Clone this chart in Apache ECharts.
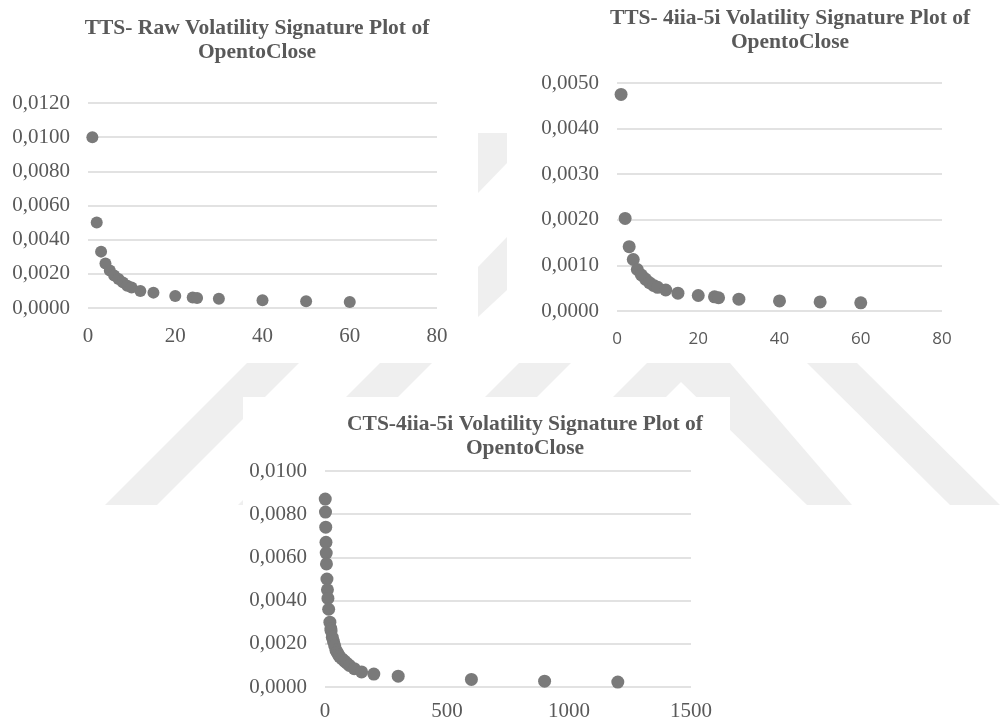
<!DOCTYPE html>
<html>
<head>
<meta charset="utf-8">
<script src="https://cdn.jsdelivr.net/npm/echarts@6/dist/echarts.min.js"></script>
<style>html,body{margin:0;padding:0;background:#fff;}#c{width:1000px;height:722px;}</style>
</head>
<body>
<div id="c"></div>
<script>
// Chart 1: TTS- Raw
var rawX = [1, 2, 3, 4, 5, 6, 7, 8, 9, 10, 12, 15, 20, 24, 25, 30, 40, 50, 60];
var rawY = [0.0100, 0.0050, 0.0033, 0.0026, 0.0022, 0.0019, 0.0017, 0.0015, 0.0013, 0.0012, 0.0010, 0.0009, 0.0007, 0.00062, 0.00059, 0.00054, 0.00045, 0.00039, 0.00035];
// Chart 2: TTS- 4iia-5i
var ttsX = [1, 2, 3, 4, 5, 6, 7, 8, 9, 10, 12, 15, 20, 24, 25, 30, 40, 50, 60];
var ttsY = [0.00475, 0.00203, 0.00141, 0.00113, 0.00091, 0.00079, 0.00070, 0.00062, 0.00056, 0.00052, 0.00046, 0.00039, 0.00034, 0.00031, 0.00029, 0.00026, 0.00022, 0.00020, 0.00018];
// Chart 3: CTS-4iia-5i
var ctsX = [1, 2, 3, 4, 5, 6, 8, 10, 12, 15, 20, 24, 25, 30, 35, 40, 45, 50, 55, 60, 70, 80, 90, 100, 120, 150, 200, 300, 600, 900, 1200];
var ctsY = [0.0087, 0.0081, 0.0074, 0.0067, 0.0062, 0.0057, 0.0050, 0.0045, 0.0041, 0.0036, 0.0030, 0.0027, 0.0026, 0.0023, 0.0021, 0.0019, 0.0017, 0.0016, 0.0015, 0.0014, 0.0013, 0.0012, 0.0011, 0.0010, 0.00085, 0.0007, 0.0006, 0.0005, 0.00035, 0.00027, 0.00023];

var titles = [
  'TTS- Raw Volatility Signature Plot of\nOpentoClose',
  'TTS- 4iia-5i Volatility Signature Plot of\nOpentoClose',
  'CTS-4iia-5i Volatility Signature Plot of\nOpentoClose'
];
var xMax = [80, 80, 1500];
var xStep = [20, 20, 500];
var yMax = [0.012, 0.005, 0.010];
var yStep = [0.002, 0.001, 0.002];

function pairs(xs, ys) { return xs.map(function (x, i) { return [x, ys[i]]; }); }

var GRAY = '#595959';
var SERIF = '"Liberation Serif", "Times New Roman", serif';
var SANS = '"Open Sans", "Noto Sans", sans-serif';
var WM = '#efefef';

var grids = [
  { left: 88, top: 103, width: 349, height: 205 },
  { left: 617, top: 83, width: 325, height: 228 },
  { left: 325, top: 471, width: 366, height: 216 }
];
var xMargins = [18, 20, 14];
var xFonts = [SERIF, SANS, SERIF];
var xSizes = [21, 17, 21];

function yFmt(v) { return v.toFixed(4).replace('.', ','); }
function xFmt(v) { return String(v); }

function titleStyle(lh) {
  return { fontFamily: SERIF, fontWeight: 'bold', fontSize: 21.5, color: GRAY, lineHeight: lh };
}

var option = {
  backgroundColor: '#fff',
  animation: false,
  title: [
    { text: titles[0], left: 257, top: 17, padding: 0, textAlign: 'center', textStyle: titleStyle(23.5) },
    { text: titles[1], left: 790, top: 6.5, padding: 0, textAlign: 'center', textStyle: titleStyle(24) },
    { text: titles[2], left: 525, top: 413, padding: 0, textAlign: 'center', textStyle: titleStyle(23.5) }
  ],
  graphic: [
    { type: 'polygon', z: -10, silent: true, shape: { points: [[247,363],[299,363],[157,505],[105,505]] }, style: { fill: WM } },
    { type: 'polygon', z: -10, silent: true, shape: { points: [[380,363],[432,363],[290,505],[238,505]] }, style: { fill: WM } },
    { type: 'polygon', z: -10, silent: true, shape: { points: [[519,363],[571,363],[429,505],[377,505]] }, style: { fill: WM } },
    { type: 'polygon', z: -10, silent: true, shape: { points: [[647,363],[700,363],[558,505],[505,505]] }, style: { fill: WM } },
    { type: 'polygon', z: -10, silent: true, shape: { points: [[662,363],[730,363],[852,505],[807,505],[681,382]] }, style: { fill: WM } },
    { type: 'polygon', z: -10, silent: true, shape: { points: [[807,363],[857,363],[1000,505],[950,505]] }, style: { fill: WM } },
    { type: 'polygon', z: -10, silent: true, shape: { points: [[478,133],[507,133],[507,163],[478,193]] }, style: { fill: WM } },
    { type: 'polygon', z: -10, silent: true, shape: { points: [[478,267],[507,237],[507,290],[478,317]] }, style: { fill: WM } },
    { type: 'rect', z: -5, silent: true, shape: { x: 243, y: 397, width: 487, height: 325 }, style: { fill: '#fff' } }
  ],
  grid: grids,
  xAxis: [0, 1, 2].map(function (i) {
    return {
      type: 'value', gridIndex: i, min: 0, max: xMax[i], interval: xStep[i],
      axisLine: { show: false }, axisTick: { show: false }, splitLine: { show: false },
      axisLabel: { color: GRAY, fontFamily: xFonts[i], fontSize: xSizes[i], margin: xMargins[i], formatter: xFmt }
    };
  }),
  yAxis: [0, 1, 2].map(function (i) {
    return {
      type: 'value', gridIndex: i, min: 0, max: yMax[i], interval: yStep[i],
      axisLine: { show: false }, axisTick: { show: false },
      splitLine: { show: true, lineStyle: { color: '#d9d9d9', width: 1.5 } },
      axisLabel: { color: GRAY, fontFamily: SERIF, fontSize: 21, margin: 18, formatter: yFmt }
    };
  }),
  series: [
    { type: 'scatter', xAxisIndex: 0, yAxisIndex: 0, data: pairs(rawX, rawY), symbolSize: 12, itemStyle: { color: '#7a7a7a', opacity: 1 } },
    { type: 'scatter', xAxisIndex: 1, yAxisIndex: 1, data: pairs(ttsX, ttsY), symbolSize: 13, itemStyle: { color: '#7a7a7a', opacity: 1 } },
    { type: 'scatter', xAxisIndex: 2, yAxisIndex: 2, data: pairs(ctsX, ctsY), symbolSize: 13, itemStyle: { color: '#7a7a7a', opacity: 1 } }
  ]
};
var chart = echarts.init(document.getElementById('c'));
chart.setOption(option);
</script>
</body>
</html>
